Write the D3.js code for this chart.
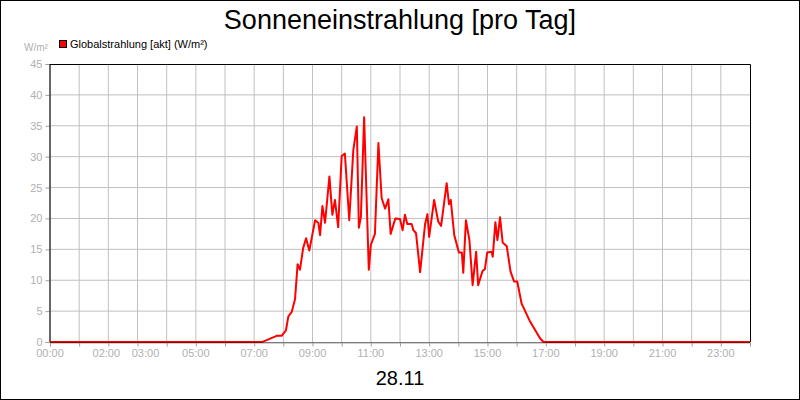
<!DOCTYPE html>
<html>
<head>
<meta charset="utf-8">
<script src="https://cdn.jsdelivr.net/npm/d3@7"></script>
<style>
body { margin: 0; background: #fff; }
text { font-family: "Liberation Sans", Arial, sans-serif; }
</style>
</head>
<body>
<svg id="chart" width="800" height="400"></svg>
<script>
// hours of day and radiation values
var hours = [0, 7.2, 7.3, 7.43, 7.77, 7.94, 8.09, 8.17, 8.29, 8.40, 8.49, 8.57, 8.68, 8.78, 8.89, 9.09, 9.20, 9.26, 9.34, 9.43,
  9.58, 9.68, 9.77, 9.88, 10.00, 10.11, 10.26, 10.40, 10.52, 10.59, 10.66, 10.77, 10.93, 11.00, 11.14, 11.26, 11.37, 11.49,
  11.60, 11.68, 11.84, 12.00, 12.09, 12.17, 12.25, 12.40, 12.46, 12.55, 12.69, 12.86, 12.94, 13.00, 13.17, 13.31, 13.41,
  13.60, 13.68, 13.74, 13.86, 14.02, 14.12, 14.17, 14.26, 14.38, 14.49, 14.61, 14.68, 14.83, 14.91, 14.99, 15.14, 15.18,
  15.27, 15.34, 15.43, 15.52, 15.66, 15.79, 15.91, 16.02, 16.17, 16.46, 16.80, 16.91, 17.0, 24];
var values = [0, 0, 0.05, 0.3, 1.0, 1.0, 1.9, 4.1, 4.9, 6.9, 12.6, 11.7, 15.2, 16.8, 14.8, 19.7, 19.3, 17.3, 22.0, 19.3,
  26.8, 20.6, 23.0, 18.6, 30.1, 30.5, 19.7, 31.1, 34.9, 18.5, 20.3, 36.4, 11.7, 15.7, 17.5, 32.2, 23.3, 21.6,
  23.1, 17.5, 20.0, 19.9, 18.1, 20.6, 19.1, 19.1, 18.1, 17.6, 11.3, 19.1, 20.7, 17.0, 23.0, 19.5, 18.8,
  25.7, 22.3, 23.0, 17.3, 14.5, 14.5, 11.2, 19.7, 16.5, 9.2, 14.6, 9.2, 11.5, 11.8, 14.5, 14.6, 13.8,
  19.4, 16.5, 20.2, 16.1, 15.5, 11.4, 9.8, 9.8, 6.2, 3.3, 0.6, 0.05, 0, 0];
var tickHours = [0, 2, 3, 5, 7, 9, 11, 13, 15, 17, 19, 21, 23];
var tickLabels = ["00:00", "02:00", "03:00", "05:00", "07:00", "09:00", "11:00", "13:00", "15:00", "17:00", "19:00", "21:00", "23:00"];
var yTicks = [0, 5, 10, 15, 20, 25, 30, 35, 40, 45];

var svg = d3.select("#chart");
var m = {left: 50, right: 750, top: 64, bottom: 342};
var x = d3.scaleLinear().domain([0, 24]).range([m.left, m.right]);
var y = d3.scaleLinear().domain([0, 45]).range([m.bottom, m.top]);

svg.append("rect").attr("x", 0.5).attr("y", 0.5).attr("width", 799).attr("height", 399)
    .attr("fill", "#fff").attr("stroke", "#000");

// grid
svg.append("g").selectAll("line").data(d3.range(1, 24)).enter().append("line")
    .attr("x1", function(d){ return x(d); }).attr("x2", function(d){ return x(d); })
    .attr("y1", m.top).attr("y2", m.bottom).attr("stroke", "#c0c0c0");
svg.append("g").selectAll("line").data(yTicks.slice(1, -1)).enter().append("line")
    .attr("y1", function(d){ return y(d); }).attr("y2", function(d){ return y(d); })
    .attr("x1", m.left).attr("x2", m.right).attr("stroke", "#c0c0c0");

// axes
var xa = svg.append("g").attr("transform", "translate(0," + (m.bottom + 0.5) + ")")
    .call(d3.axisBottom(x).tickValues(d3.range(0, 25)).tickSize(4).tickFormat(""));
var ya = svg.append("g").attr("transform", "translate(" + (m.left - 0.5) + ",0)")
    .call(d3.axisLeft(y).tickValues(yTicks).tickSize(4).tickFormat(d3.format("d")));
[xa, ya].forEach(function(a){
    a.select(".domain").attr("stroke", "#a0a0a0");
    a.selectAll(".tick line").attr("stroke", "#a0a0a0");
    a.selectAll("text").attr("fill", "#b0b0b0").style("font-size", "11px");
});
svg.append("g").selectAll("text").data(tickHours).enter().append("text")
    .attr("x", function(d){ return x(d) + (d == 2 ? -2 : d == 3 ? 8 : 0); }).attr("y", 357)
    .attr("text-anchor", "middle").attr("fill", "#b0b0b0").style("font-size", "11px")
    .text(function(d, i){ return tickLabels[i]; });

// frame top/right
svg.append("path").attr("d", "M" + m.left + "," + (m.top + 0.5) + "H" + (m.right + 0.5) + "V" + m.bottom)
    .attr("fill", "none").attr("stroke", "#000");
svg.append("line").attr("x1", m.left).attr("x2", m.left).attr("y1", m.top).attr("y2", m.bottom).attr("stroke", "#000");

// line
var pts = hours.map(function(h, i){ return [h, values[i]]; });
svg.append("path").datum(pts)
    .attr("d", d3.line().x(function(d){ return x(d[0]); }).y(function(d){ return y(d[1]); }))
    .attr("fill", "none").attr("stroke", "#ff0000").attr("stroke-width", 2).attr("stroke-linejoin", "round");
svg.append("line").attr("x1", m.left).attr("x2", m.right).attr("y1", m.bottom + 0.5).attr("y2", m.bottom + 0.5)
    .attr("stroke", "#000").attr("stroke-opacity", 0.4);

// titles and legend
svg.append("text").attr("x", 400).attr("y", 29).attr("text-anchor", "middle").style("font-size", "27px").text("Sonneneinstrahlung [pro Tag]");
svg.append("text").attr("x", 400).attr("y", 385).attr("text-anchor", "middle").style("font-size", "20px").text("28.11");
svg.append("text").attr("x", 24).attr("y", 51).attr("fill", "#b0b0b0").style("font-size", "10px").text("W/m²");
svg.append("rect").attr("x", 59.5).attr("y", 40.5).attr("width", 7).attr("height", 7).attr("fill", "#ff0000").attr("stroke", "#000");
svg.append("text").attr("x", 70).attr("y", 48).style("font-size", "11px").text("Globalstrahlung [akt] (W/m²)");
</script>
</body>
</html>
